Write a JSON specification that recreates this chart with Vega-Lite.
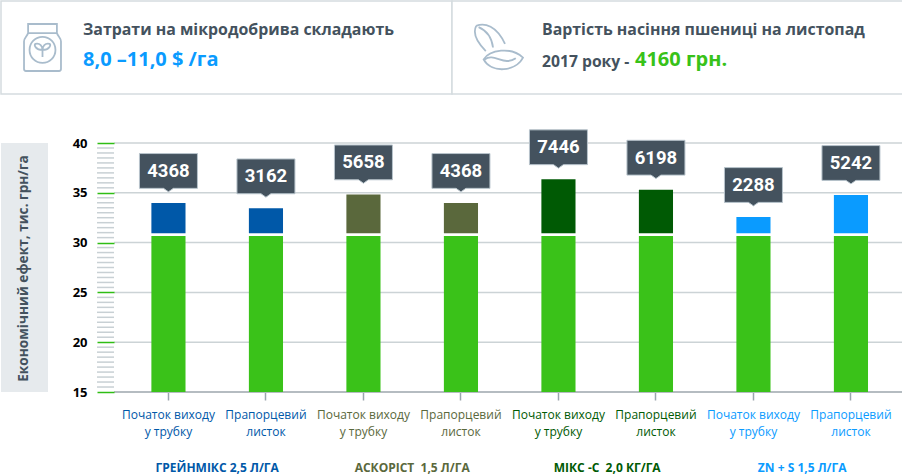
{
"$schema":"https://vega.github.io/schema/vega-lite/v6.json",
"padding":0,
"background":"white",
"spacing":32,
"config":{"view":{"stroke":null},"text":{"font":"Open Sans"},"axis":{"labelFont":"Open Sans","titleFont":"Open Sans"}},
"datasets":{
"rows":[
{"key":"ГРЕЙНМІКС 2,5 Л/ГА|Початок виходу|у трубку","group":"ГРЕЙНМІКС 2,5 Л/ГА","base":30.66,"bottom":30.93,"top":33.98,"cost":4368},
{"key":"ГРЕЙНМІКС 2,5 Л/ГА|Прапорцевий|листок","group":"ГРЕЙНМІКС 2,5 Л/ГА","base":30.66,"bottom":30.93,"top":33.44,"cost":3162},
{"key":"АСКОРІСТ \u00a01,5 Л/ГА|Початок виходу|у трубку","group":"АСКОРІСТ \u00a01,5 Л/ГА","base":30.66,"bottom":30.93,"top":34.84,"cost":5658},
{"key":"АСКОРІСТ \u00a01,5 Л/ГА|Прапорцевий|листок","group":"АСКОРІСТ \u00a01,5 Л/ГА","base":30.66,"bottom":30.93,"top":33.98,"cost":4368},
{"key":"МІКС -С \u00a02,0 КГ/ГА|Початок виходу|у трубку","group":"МІКС -С \u00a02,0 КГ/ГА","base":30.66,"bottom":30.93,"top":36.36,"cost":7446},
{"key":"МІКС -С \u00a02,0 КГ/ГА|Прапорцевий|листок","group":"МІКС -С \u00a02,0 КГ/ГА","base":30.66,"bottom":30.93,"top":35.31,"cost":6198},
{"key":"ZN + S 1,5 Л/ГА|Початок виходу|у трубку","group":"ZN + S 1,5 Л/ГА","base":30.66,"bottom":30.93,"top":32.57,"cost":2288},
{"key":"ZN + S 1,5 Л/ГА|Прапорцевий|листок","group":"ZN + S 1,5 Л/ГА","base":30.66,"bottom":30.93,"top":34.78,"cost":5242}
],
"groups":[
{"key":"ГРЕЙНМІКС 2,5 Л/ГА|Початок виходу|у трубку","group":"ГРЕЙНМІКС 2,5 Л/ГА"},
{"key":"АСКОРІСТ \u00a01,5 Л/ГА|Початок виходу|у трубку","group":"АСКОРІСТ \u00a01,5 Л/ГА"},
{"key":"МІКС -С \u00a02,0 КГ/ГА|Початок виходу|у трубку","group":"МІКС -С \u00a02,0 КГ/ГА"},
{"key":"ZN + S 1,5 Л/ГА|Початок виходу|у трубку","group":"ZN + S 1,5 Л/ГА"}
],
"panels":[{"panel":"left"},{"panel":"right"}],
"gridlines":[{"v":20},{"v":25},{"v":30},{"v":35},{"v":40}],
"minor":[{"v":15.5},{"v":16},{"v":16.5},{"v":17},{"v":17.5},{"v":18},{"v":18.5},{"v":19},{"v":19.5},{"v":20.5},{"v":21},{"v":21.5},{"v":22},{"v":22.5},{"v":23},{"v":23.5},{"v":24},{"v":24.5},{"v":25.5},{"v":26},{"v":26.5},{"v":27},{"v":27.5},{"v":28},{"v":28.5},{"v":29},{"v":29.5},{"v":30.5},{"v":31},{"v":31.5},{"v":32},{"v":32.5},{"v":33},{"v":33.5},{"v":34},{"v":34.5},{"v":35.5},{"v":36},{"v":36.5},{"v":37},{"v":37.5},{"v":38},{"v":38.5},{"v":39},{"v":39.5}]
},
"vconcat":[
{
"width":902,"height":93,
"layer":[
{"data":{"name":"panels"},"mark":{"type":"rect","fill":"white","stroke":"#d5dcdf","strokeWidth":1.5},
 "encoding":{"x":{"field":"panel","type":"nominal","axis":null,"sort":null,"scale":{"domain":["left","right"],"paddingInner":0,"paddingOuter":0}}}},
{"data":{"values":[{"panel":"left"}]},"mark":{"type":"point","filled":false,"stroke":"#a9bccc","strokeWidth":1.8,"size":2304,"xOffset":41.5,"opacity":1,
 "shape":"M-0.6,-0.98H0.6V-0.6H-0.6Z M-0.6,-0.6C-0.65,-0.45 -0.77,-0.4 -0.77,-0.25V0.9Q-0.77,0.98 -0.69,0.98H0.69Q0.77,0.98 0.77,0.9V-0.25C0.77,-0.4 0.65,-0.45 0.6,-0.6 M-0.54,0.1A0.54,0.54 0 1,1 0.54,0.1A0.54,0.54 0 1,1 -0.54,0.1Z M0,0.4V0.1 M0,0.1C-0.3,0.1 -0.35,-0.1 -0.3,-0.15C-0.1,-0.2 0,-0.05 0,0.1C0,-0.05 0.1,-0.2 0.3,-0.15C0.35,-0.1 0.3,0.1 0,0.1"},
 "encoding":{"x":{"field":"panel","type":"nominal","axis":null,"bandPosition":0}}},
{"data":{"values":[{"panel":"right"}]},"mark":{"type":"point","filled":false,"stroke":"#a9bccc","strokeWidth":1.8,"size":2304,"xOffset":47,"opacity":1,
 "shape":"M-0.95,-0.9C-0.6,-1.05 -0.1,-0.9 0.25,-0.15 M-0.95,-0.9C-1.1,-0.6 -0.9,-0.2 -0.55,0.15 M-0.85,-0.85C-0.5,-0.7 -0.3,-0.4 -0.25,0 M-0.64,0.5C-0.4,0.1 0.5,-0.05 1,0.42C0.7,1 -0.3,1.1 -0.64,0.5Z M-0.6,0.5C-0.2,0.2 0.2,0.8 0.7,0.45"},
 "encoding":{"x":{"field":"panel","type":"nominal","axis":null,"bandPosition":0}}},
{"data":{"values":[{"panel":"left","line":"a","t":"Затрати на мікродобрива складають"}]},
 "mark":{"type":"text","align":"left","baseline":"middle","dx":82,"dy":-2,"fontSize":15.9,"fontWeight":"bold","fill":"#44525e"},
 "encoding":{"x":{"field":"panel","type":"nominal","axis":null,"bandPosition":0},"y":{"field":"line","type":"ordinal","axis":null,"scale":{"type":"point","domain":["a","b"],"padding":1.1}},"text":{"field":"t","type":"nominal"}}},
{"data":{"values":[{"panel":"left","line":"b","t":"8,0 –11,0 $ /га"}]},
 "mark":{"type":"text","align":"left","baseline":"middle","dx":82,"dy":-3,"fontSize":20,"fontWeight":"bold","fill":"#0a9bff"},
 "encoding":{"x":{"field":"panel","type":"nominal","axis":null,"bandPosition":0},"y":{"field":"line","type":"ordinal","axis":null},"text":{"field":"t","type":"nominal"}}},
{"data":{"values":[{"panel":"right","line":"a","t":"Вартість насіння пшениці на листопад"}]},
 "mark":{"type":"text","align":"left","baseline":"middle","dx":90,"dy":-2,"fontSize":15.9,"fontWeight":"bold","fill":"#44525e"},
 "encoding":{"x":{"field":"panel","type":"nominal","axis":null,"bandPosition":0},"y":{"field":"line","type":"ordinal","axis":null},"text":{"field":"t","type":"nominal"}}},
{"data":{"values":[{"panel":"right","line":"b","t":"2017 року -"}]},
 "mark":{"type":"text","align":"left","baseline":"middle","dx":90,"dy":-1,"fontSize":15.7,"fontWeight":"bold","fill":"#44525e"},
 "encoding":{"x":{"field":"panel","type":"nominal","axis":null,"bandPosition":0},"y":{"field":"line","type":"ordinal","axis":null},"text":{"field":"t","type":"nominal"}}},
{"data":{"values":[{"panel":"right","line":"b","t":"4160 грн."}]},
 "mark":{"type":"text","align":"left","baseline":"middle","dx":183,"dy":-3,"fontSize":20,"fontWeight":"bold","fill":"#38c219"},
 "encoding":{"x":{"field":"panel","type":"nominal","axis":null,"bandPosition":0},"y":{"field":"line","type":"ordinal","axis":null},"text":{"field":"t","type":"nominal"}}}
]
},
{
"width":902,"height":249,
"layer":[
{"data":{"values":[{"a":1}]},"mark":{"type":"rect","fill":"#e6eaed","x":0,"x2":47},
 "encoding":{"y":{"datum":40,"type":"quantitative","scale":{"domain":[15,40],"nice":false,"zero":false},
  "axis":{"title":"Економічний ефект, тис. грн/га","offset":-113,"zindex":1,"titleColor":"#44525e","titleFontSize":13.7,"titleFontWeight":"bold","titleX":-84,"titleY":125,"titleAnchor":"middle","titleAlign":"center",
   "values":[15,20,25,30,35,40],"labelOverlap":false,"labelFontSize":13,"labelFontWeight":"bold","labelColor":"#000000","labelPadding":10,"domain":false,
   "tickSize":17,"tickColor":"#2fbd14","tickWidth":1.5,"grid":false}},
  "y2":{"datum":15}}},
{"data":{"name":"minor"},"mark":{"type":"rule","color":"#c8d0d4","strokeWidth":1.5,"x":96,"x2":113},"encoding":{"y":{"field":"v","type":"quantitative","scale":{"domain":[15,40],"nice":false,"zero":false}}}},
{"data":{"name":"gridlines"},"mark":{"type":"rule","color":"#ccd3d6","strokeWidth":1.5,"x":113,"x2":902},"encoding":{"y":{"field":"v","type":"quantitative","scale":{"domain":[15,40],"nice":false,"zero":false}}}},
{"data":{"values":[{"a":1}]},"mark":{"type":"rule","color":"#b5bcc1","strokeWidth":2,"x":113,"x2":902},"encoding":{"y":{"datum":15,"type":"quantitative","scale":{"domain":[15,40],"nice":false,"zero":false}}}},
{"data":{"name":"rows"},"mark":{"type":"bar","fill":"#3ac219"},
 "encoding":{"x":{"field":"key","type":"nominal","sort":null,
   "scale":{"domain":["ГРЕЙНМІКС 2,5 Л/ГА|Початок виходу|у трубку","ГРЕЙНМІКС 2,5 Л/ГА|Прапорцевий|листок","АСКОРІСТ \u00a01,5 Л/ГА|Початок виходу|у трубку","АСКОРІСТ \u00a01,5 Л/ГА|Прапорцевий|листок","МІКС -С \u00a02,0 КГ/ГА|Початок виходу|у трубку","МІКС -С \u00a02,0 КГ/ГА|Прапорцевий|листок","ZN + S 1,5 Л/ГА|Початок виходу|у трубку","ZN + S 1,5 Л/ГА|Прапорцевий|листок"],"range":[118.7,898.7],"paddingInner":0.65,"paddingOuter":0.325},
   "axis":{"title":null,"domain":false,"labelAngle":0,"tickSize":8,"tickColor":"#9aa5ad","tickWidth":1.5,"labelPadding":9,"labelFontSize":12,"labelLineHeight":17,"labelLimit":0,"labelOverlap":false,"labelExpr":"slice(split(datum.label,'|'),1)",
    "labelColor":{"condition":[{"test":"indexof(datum.label,'ГРЕЙН')===0","value":"#0058a8"},{"test":"indexof(datum.label,'АСКОР')===0","value":"#5a683c"},{"test":"indexof(datum.label,'МІКС')===0","value":"#005a04"}],"value":"#0a9bff"}}},
  "y":{"field":"base","type":"quantitative","scale":{"domain":[15,40],"nice":false,"zero":false}},"y2":{"datum":15}}},
{"data":{"name":"rows"},"mark":{"type":"bar"},
 "encoding":{"x":{"field":"key","type":"nominal","sort":null},
  "y":{"field":"top","type":"quantitative","scale":{"domain":[15,40],"nice":false,"zero":false}},"y2":{"field":"bottom"},
  "color":{"field":"group","type":"nominal","legend":null,"scale":{"domain":["ГРЕЙНМІКС 2,5 Л/ГА","АСКОРІСТ \u00a01,5 Л/ГА","МІКС -С \u00a02,0 КГ/ГА","ZN + S 1,5 Л/ГА"],"range":["#0058a8","#5a683c","#005a04","#0a9bff"]}}}},
{"data":{"name":"rows"},"mark":{"type":"point","filled":true,"fill":"#44525e","stroke":"#b8c4cc","strokeWidth":1,"opacity":1,"size":3364,"yOffset":-32,"shape":"M-1,-0.6H1V0.6H0.17L0,0.72L-0.17,0.6H-1Z"},
 "encoding":{"x":{"field":"key","type":"nominal","sort":null},"y":{"field":"top","type":"quantitative","scale":{"domain":[15,40],"nice":false,"zero":false}}}},
{"data":{"name":"rows"},"mark":{"type":"text","font":"Roboto","fontWeight":"bold","fontSize":18.5,"fill":"white","baseline":"middle","dy":-32},
 "encoding":{"x":{"field":"key","type":"nominal","sort":null},"y":{"field":"top","type":"quantitative","scale":{"domain":[15,40],"nice":false,"zero":false}},"text":{"field":"cost","type":"nominal"}}},
{"data":{"name":"groups"},"mark":{"type":"text","fontWeight":"bold","fontSize":12,"baseline":"middle","dx":48.75,"dy":76},
 "encoding":{"x":{"field":"key","type":"nominal","sort":null},"y":{"datum":15,"type":"quantitative","scale":{"domain":[15,40],"nice":false,"zero":false}},"text":{"field":"group","type":"nominal"},
  "color":{"field":"group","type":"nominal","legend":null}}}
]
}
]
}
